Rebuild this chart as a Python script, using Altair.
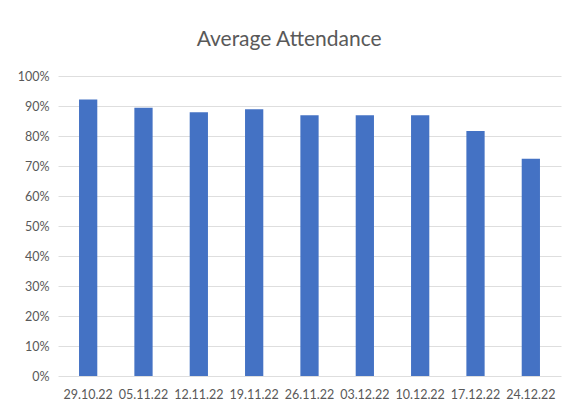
import altair as alt
import pandas as pd

weeks = ["29.10.22", "05.11.22", "12.11.22", "19.11.22", "26.11.22",
         "03.12.22", "10.12.22", "17.12.22", "24.12.22"]
attendance = [0.922, 0.894, 0.879, 0.889, 0.869, 0.869, 0.869, 0.817, 0.724]

df = pd.DataFrame({"week": weeks, "attendance": attendance})

FONT = "Lato"
GREY = "#595959"

chart = alt.Chart(df).mark_bar(color="#4472C4").encode(
    x=alt.X("week:N", sort=weeks, title=None,
            scale=alt.Scale(paddingInner=0.67, paddingOuter=0.38),
            axis=alt.Axis(labelAngle=0, labelFont=FONT, labelFontSize=12.5,
                          labelColor=GREY, domain=False, ticks=False,
                          labelPadding=12)),
    y=alt.Y("attendance:Q", title=None,
            scale=alt.Scale(domain=[0, 1], nice=False),
            axis=alt.Axis(format=".0%", values=[i / 10 for i in range(11)],
                          labelFont=FONT, labelFontSize=12.5, labelColor=GREY,
                          domain=False, ticks=False, labelPadding=9,
                          grid=True, gridColor="#dedede", gridWidth=1)),
).properties(
    width=503,
    height=300,
    background="white",
    title=alt.TitleParams("Average Attendance", font=FONT, fontSize=21,
                          fontWeight="normal", color=GREY, anchor="middle",
                          frame="bounds", offset=20),
    autosize=alt.AutoSizeParams(type="none"),
    padding={"left": 50, "top": 68, "right": 4, "bottom": 40},
).configure_view(stroke=None)

chart.save("out.html", embed_options={"renderer": "svg", "actions": False})
